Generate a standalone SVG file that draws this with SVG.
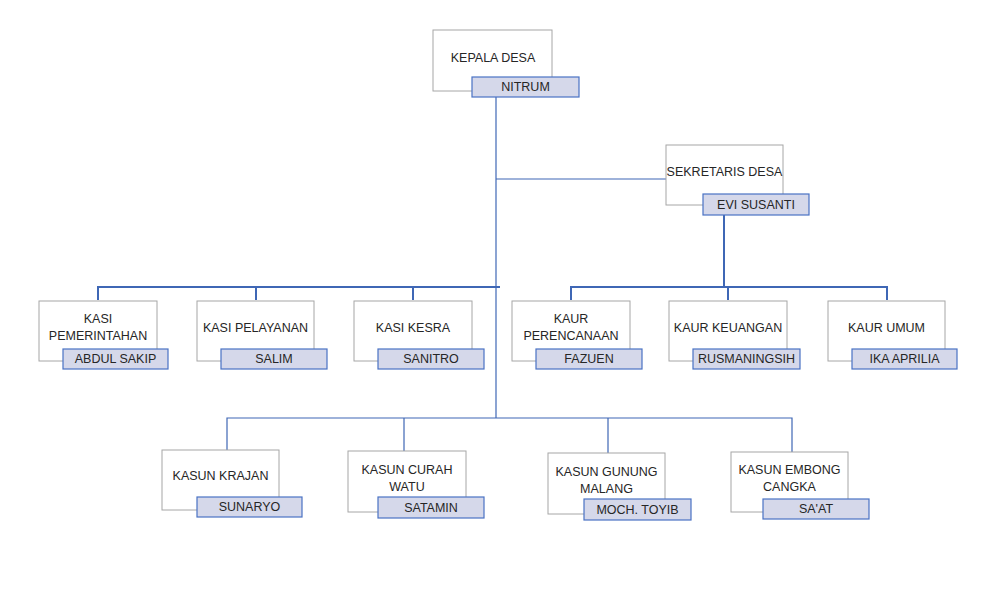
<svg xmlns="http://www.w3.org/2000/svg" width="1001" height="600" viewBox="0 0 1001 600">
<style>
.box{fill:#ffffff;stroke:#a6a6a6;stroke-width:1}
.name{fill:#d5d8ea;stroke:#4a72c4;stroke-width:1.2}
.t{font-family:"Liberation Sans",Arial,sans-serif;font-size:12.5px;fill:#262626;text-anchor:middle}
.ln{fill:none;stroke:#3f67b5;stroke-width:1.2}
.lnb{fill:none;stroke:#3f67b5;stroke-width:2}
</style>
<rect width="1001" height="600" fill="#ffffff"/>
<g id="connectors">
<path class="ln" d="M496,97 V418"/>
<path class="ln" d="M496,179 H666"/>
<path class="lnb" d="M98,300 V287 H500"/>
<path class="lnb" d="M256,287 V300 M413,287 V300"/>
<path class="lnb" d="M724,215 V287"/>
<path class="lnb" d="M571,300 V287 H887 V300 M728,287 V300"/>
<path class="ln" d="M227,450 V418 H792 V452 M404,418 V451 M608,418 V453"/>
</g>
<g id="kepala-desa">
<rect class="box" x="433" y="30" width="119" height="61"/>
<text class="t" x="493" y="62">KEPALA DESA</text>
<rect class="name" x="472" y="77" width="107" height="20"/>
<text class="t" x="525.5" y="91">NITRUM</text>
</g>
<g id="sekretaris-desa">
<rect class="box" x="666" y="145" width="117" height="60"/>
<text class="t" x="724.5" y="176">SEKRETARIS DESA</text>
<rect class="name" x="703" y="194" width="106" height="21"/>
<text class="t" x="756" y="209">EVI SUSANTI</text>
</g>
<g id="kasi-pemerintahan">
<rect class="box" x="39" y="301" width="118" height="60"/>
<text class="t" x="98" y="323">KASI</text>
<text class="t" x="98" y="340">PEMERINTAHAN</text>
<rect class="name" x="63" y="349" width="105" height="20"/>
<text class="t" x="115.5" y="363">ABDUL SAKIP</text>
</g>
<g id="kasi-pelayanan">
<rect class="box" x="197" y="301" width="117" height="60"/>
<text class="t" x="255.5" y="332">KASI PELAYANAN</text>
<rect class="name" x="221" y="349" width="106" height="20"/>
<text class="t" x="274" y="363">SALIM</text>
</g>
<g id="kasi-kesra">
<rect class="box" x="354" y="301" width="118" height="60"/>
<text class="t" x="413" y="332">KASI KESRA</text>
<rect class="name" x="378" y="349" width="106" height="20"/>
<text class="t" x="431" y="363">SANITRO</text>
</g>
<g id="kaur-perencanaan">
<rect class="box" x="512" y="301" width="118" height="60"/>
<text class="t" x="571" y="323">KAUR</text>
<text class="t" x="571" y="340">PERENCANAAN</text>
<rect class="name" x="536" y="349" width="106" height="20"/>
<text class="t" x="589" y="363">FAZUEN</text>
</g>
<g id="kaur-keuangan">
<rect class="box" x="669" y="301" width="118" height="60"/>
<text class="t" x="728" y="332">KAUR KEUANGAN</text>
<rect class="name" x="693" y="349" width="107" height="20"/>
<text class="t" x="746.5" y="363">RUSMANINGSIH</text>
</g>
<g id="kaur-umum">
<rect class="box" x="828" y="301" width="117" height="60"/>
<text class="t" x="886.5" y="332">KAUR UMUM</text>
<rect class="name" x="852" y="349" width="105" height="20"/>
<text class="t" x="904.5" y="363">IKA APRILIA</text>
</g>
<g id="kasun-krajan">
<rect class="box" x="162" y="450" width="117" height="60"/>
<text class="t" x="220.5" y="480">KASUN KRAJAN</text>
<rect class="name" x="197" y="497" width="105" height="20"/>
<text class="t" x="249.5" y="511">SUNARYO</text>
</g>
<g id="kasun-curah-watu">
<rect class="box" x="348" y="451" width="118" height="61"/>
<text class="t" x="407" y="474">KASUN CURAH</text>
<text class="t" x="407" y="491">WATU</text>
<rect class="name" x="378" y="497" width="106" height="21"/>
<text class="t" x="431" y="512">SATAMIN</text>
</g>
<g id="kasun-gunung-malang">
<rect class="box" x="548" y="453" width="117" height="61"/>
<text class="t" x="606.5" y="476">KASUN GUNUNG</text>
<text class="t" x="606.5" y="493">MALANG</text>
<rect class="name" x="584" y="499" width="107" height="21"/>
<text class="t" x="637.5" y="514">MOCH. TOYIB</text>
</g>
<g id="kasun-embong-cangka">
<rect class="box" x="731" y="452" width="117" height="60"/>
<text class="t" x="789.5" y="474">KASUN EMBONG</text>
<text class="t" x="789.5" y="491">CANGKA</text>
<rect class="name" x="763" y="499" width="106" height="20"/>
<text class="t" x="816" y="513">SA'AT</text>
</g>
</svg>
